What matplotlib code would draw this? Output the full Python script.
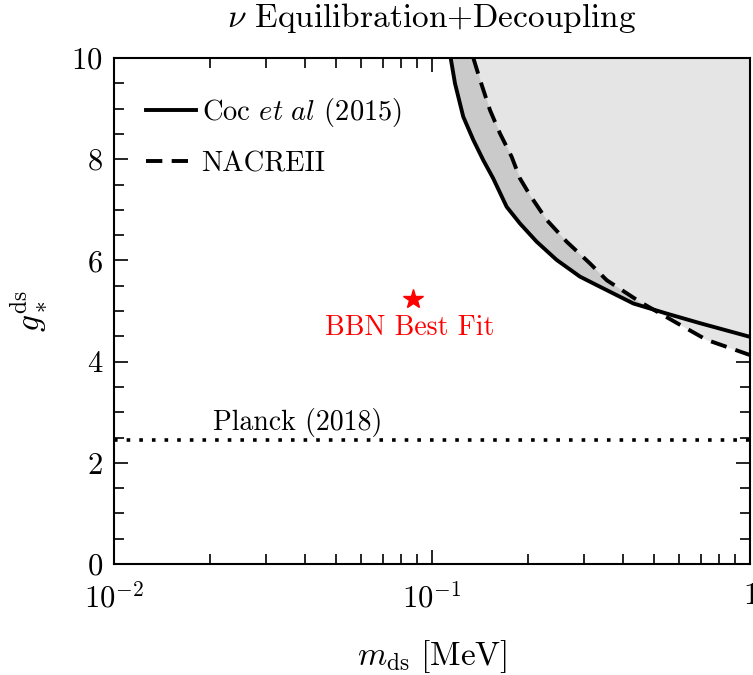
import numpy as np
import matplotlib
matplotlib.use("Agg")
import matplotlib.pyplot as plt
from matplotlib.ticker import FixedLocator, FuncFormatter, MultipleLocator, LogLocator

plt.rcParams['font.family'] = 'serif'
plt.rcParams['font.serif'] = ['cmr10']
plt.rcParams['mathtext.fontset'] = 'cm'
plt.rcParams['axes.formatter.use_mathtext'] = True

# Data
coc_m = [0.1145, 0.1181, 0.1254, 0.1349, 0.1450, 0.1558, 0.1717, 0.1891, 0.2134,
         0.2466, 0.2920, 0.3375, 0.4295, 0.547, 0.6963, 1.0]
coc_g = [10.0, 9.50, 8.84, 8.38, 7.98, 7.62, 7.06, 6.73, 6.37,
         6.01, 5.68, 5.48, 5.15, 4.95, 4.76, 4.49]
nacre_m = [0.1349, 0.1416, 0.1522, 0.1636, 0.1780, 0.1891, 0.2033, 0.2295, 0.2652,
           0.3140, 0.3543, 0.4510, 0.5902, 0.7309, 0.930, 1.0]
nacre_g = [10.0, 9.57, 8.97, 8.51, 8.05, 7.62, 7.29, 6.80, 6.37,
           5.94, 5.61, 5.18, 4.76, 4.43, 4.20, 4.13]
planck_g = 2.45
best_fit_m = 0.0871
best_fit_g = 5.24

fig = plt.figure(figsize=(7.53, 6.75), dpi=100)
ax = fig.add_axes([0.1514, 0.1644, 0.8446, 0.7496])

ax.fill_between(coc_m, coc_g, 10, color='#cacaca', lw=0, zorder=1)
ax.fill_between(nacre_m, nacre_g, 10, color='#e5e5e5', lw=0, zorder=2)
ax.plot(coc_m, coc_g, 'k-', lw=2.8, label=r'Coc $\it{et\ al}$ (2015)', zorder=3)
ax.plot(nacre_m, nacre_g, 'k--', lw=2.8, dashes=(4.2, 2.4), label='NACREII', zorder=3)
ax.axhline(planck_g, color='k', ls=(0, (1, 2.5)), lw=2.6, zorder=3)
ax.text(0.0379, 2.8, 'Planck (2018)', ha='center', va='center', fontsize=20)
ax.plot([best_fit_m], [best_fit_g], marker='*', color='red', ms=15, ls='none', zorder=4)
ax.text(0.0853, 4.66, 'BBN Best Fit', ha='center', va='center', fontsize=20, color='red')

ax.set_xscale('log')
ax.set_xlim(0.01, 1)
ax.set_ylim(0, 10)
ax.xaxis.set_major_locator(FixedLocator([0.01, 0.1, 1]))
ax.xaxis.set_major_formatter(FuncFormatter(lambda v, p: {0.01: r'$10^{-2}$', 0.1: r'$10^{-1}$', 1: r'$1$'}.get(round(v, 4), '')))
ax.xaxis.set_minor_locator(LogLocator(base=10, subs=np.arange(2, 10)))
ax.xaxis.set_minor_formatter(FuncFormatter(lambda v, p: ''))
ax.yaxis.set_major_locator(MultipleLocator(2))
ax.yaxis.set_minor_locator(MultipleLocator(0.5))
ax.yaxis.set_major_formatter(FuncFormatter(lambda v, p: r'$%d$' % v))
ax.tick_params(which='both', direction='in', top=True, right=True, labelsize=22, width=1.2)
ax.tick_params(which='major', length=10)
ax.tick_params(which='minor', length=7)
ax.tick_params(axis='x', which='major', pad=13)
ax.tick_params(axis='y', which='major', pad=8)
for s in ax.spines.values():
    s.set_linewidth(1.5)

ax.set_xlabel(r'$m_{\rm ds}\ [{\rm MeV}]$', fontsize=24, labelpad=18)
ax.set_ylabel(r'$g_*^{\rm ds}$', fontsize=24, labelpad=16)
ax.set_title(r'$\nu$ Equilibration+Decoupling', fontsize=24, pad=22)

leg = ax.legend(loc='upper left', frameon=False, fontsize=20.5, handlelength=1.75,
                handletextpad=0.2, labelspacing=0.75, bbox_to_anchor=(0.01, 0.975))

fig.savefig('out.png', dpi=100)
